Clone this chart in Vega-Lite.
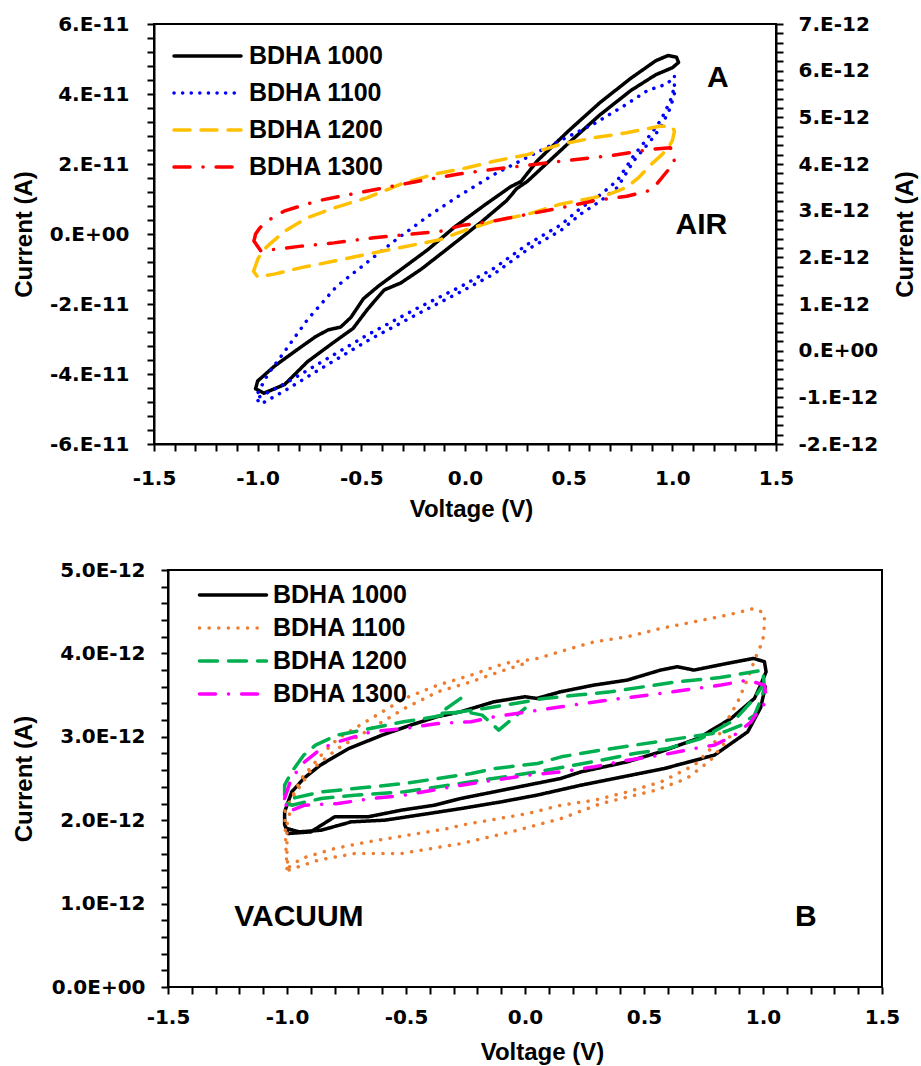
{
"$schema": "https://vega.github.io/schema/vega-lite/v6.json",
"background": "white",
"padding": {"left": 11, "top": 13, "right": 2, "bottom": 2},
"spacing": 38,
"config": {
 "view": {"stroke": "#000", "strokeWidth": 2},
 "axis": {"domainColor": "#000", "domainWidth": 2, "tickColor": "#000", "tickWidth": 2, "tickSize": 7, "grid": false,
  "labelFont": "DejaVu Sans", "labelFontWeight": "bold", "labelFontSize": 20, "labelColor": "#000",
  "titleFont": "Liberation Sans", "titleFontWeight": "bold", "titleFontSize": 24, "titleColor": "#000",
  "labelOverlap": false, "labelFlush": false, "labelBound": false},
 "legend": {"labelFont": "Liberation Sans", "labelFontWeight": "bold", "labelFontSize": 25, "labelColor": "#000"}
},
"datasets": {
"notes": [
 {"p": "A", "label": "A", "v": 1.22, "pA": 44.7},
 {"p": "A", "label": "AIR", "v": 1.14, "pA": 2.7},
 {"p": "B", "label": "VACUUM", "v": -0.95, "pA": 0.84},
 {"p": "B", "label": "B", "v": 1.18, "pA": 0.84}
],
"frame": [{"v0": -1.5, "v1": 1.5, "c0": 0, "c1": 5}],
"curves": [
{"p":"A","s":"BDHA 1000","g":1,"i":1,"v":-1.01,"pA":-44.2},
{"p":"A","s":"BDHA 1000","g":1,"i":2,"v":-0.97,"pA":-45.5},
{"p":"A","s":"BDHA 1000","g":1,"i":3,"v":-0.87,"pA":-43.0},
{"p":"A","s":"BDHA 1000","g":1,"i":4,"v":-0.76,"pA":-36.5},
{"p":"A","s":"BDHA 1000","g":1,"i":5,"v":-0.63,"pA":-30.8},
{"p":"A","s":"BDHA 1000","g":1,"i":6,"v":-0.54,"pA":-27.0},
{"p":"A","s":"BDHA 1000","g":1,"i":7,"v":-0.47,"pA":-21.5},
{"p":"A","s":"BDHA 1000","g":1,"i":8,"v":-0.39,"pA":-16.0},
{"p":"A","s":"BDHA 1000","g":1,"i":9,"v":-0.31,"pA":-14.0},
{"p":"A","s":"BDHA 1000","g":1,"i":10,"v":-0.21,"pA":-10.0},
{"p":"A","s":"BDHA 1000","g":1,"i":11,"v":-0.08,"pA":-4.0},
{"p":"A","s":"BDHA 1000","g":1,"i":12,"v":0.08,"pA":3.5},
{"p":"A","s":"BDHA 1000","g":1,"i":13,"v":0.2,"pA":9.5},
{"p":"A","s":"BDHA 1000","g":1,"i":14,"v":0.25,"pA":13.0},
{"p":"A","s":"BDHA 1000","g":1,"i":15,"v":0.3,"pA":15.0},
{"p":"A","s":"BDHA 1000","g":1,"i":16,"v":0.4,"pA":20.5},
{"p":"A","s":"BDHA 1000","g":1,"i":17,"v":0.5,"pA":26.0},
{"p":"A","s":"BDHA 1000","g":1,"i":18,"v":0.65,"pA":34.0},
{"p":"A","s":"BDHA 1000","g":1,"i":19,"v":0.8,"pA":41.0},
{"p":"A","s":"BDHA 1000","g":1,"i":20,"v":0.92,"pA":45.5},
{"p":"A","s":"BDHA 1000","g":1,"i":21,"v":1.0,"pA":47.5},
{"p":"A","s":"BDHA 1000","g":1,"i":22,"v":1.03,"pA":49.0},
{"p":"A","s":"BDHA 1000","g":1,"i":23,"v":1.02,"pA":50.5},
{"p":"A","s":"BDHA 1000","g":1,"i":24,"v":0.98,"pA":51.0},
{"p":"A","s":"BDHA 1000","g":1,"i":25,"v":0.92,"pA":49.5},
{"p":"A","s":"BDHA 1000","g":1,"i":26,"v":0.8,"pA":44.5},
{"p":"A","s":"BDHA 1000","g":1,"i":27,"v":0.65,"pA":37.5},
{"p":"A","s":"BDHA 1000","g":1,"i":28,"v":0.5,"pA":29.5},
{"p":"A","s":"BDHA 1000","g":1,"i":29,"v":0.35,"pA":21.0},
{"p":"A","s":"BDHA 1000","g":1,"i":30,"v":0.27,"pA":15.0},
{"p":"A","s":"BDHA 1000","g":1,"i":31,"v":0.22,"pA":13.5},
{"p":"A","s":"BDHA 1000","g":1,"i":32,"v":0.1,"pA":8.5},
{"p":"A","s":"BDHA 1000","g":1,"i":33,"v":-0.05,"pA":2.0},
{"p":"A","s":"BDHA 1000","g":1,"i":34,"v":-0.18,"pA":-4.5},
{"p":"A","s":"BDHA 1000","g":1,"i":35,"v":-0.31,"pA":-10.2},
{"p":"A","s":"BDHA 1000","g":1,"i":36,"v":-0.42,"pA":-15.0},
{"p":"A","s":"BDHA 1000","g":1,"i":37,"v":-0.49,"pA":-18.5},
{"p":"A","s":"BDHA 1000","g":1,"i":38,"v":-0.55,"pA":-23.8},
{"p":"A","s":"BDHA 1000","g":1,"i":39,"v":-0.6,"pA":-26.6},
{"p":"A","s":"BDHA 1000","g":1,"i":40,"v":-0.66,"pA":-27.4},
{"p":"A","s":"BDHA 1000","g":1,"i":41,"v":-0.72,"pA":-29.3},
{"p":"A","s":"BDHA 1000","g":1,"i":42,"v":-0.82,"pA":-33.5},
{"p":"A","s":"BDHA 1000","g":1,"i":43,"v":-0.92,"pA":-37.8},
{"p":"A","s":"BDHA 1000","g":1,"i":44,"v":-1.0,"pA":-42.0},
{"p":"A","s":"BDHA 1000","g":1,"i":45,"v":-1.01,"pA":-44.2},
{"p":"A","s":"BDHA 1100","g":1,"i":1,"v":1.01,"pA":45},
{"p":"A","s":"BDHA 1100","g":1,"i":2,"v":1.01,"pA":40},
{"p":"A","s":"BDHA 1100","g":1,"i":3,"v":0.99,"pA":36},
{"p":"A","s":"BDHA 1100","g":1,"i":4,"v":0.944,"pA":30.5},
{"p":"A","s":"BDHA 1100","g":1,"i":5,"v":0.896,"pA":26.7},
{"p":"A","s":"BDHA 1100","g":1,"i":6,"v":0.815,"pA":21},
{"p":"A","s":"BDHA 1100","g":1,"i":7,"v":0.735,"pA":13.3},
{"p":"A","s":"BDHA 1100","g":1,"i":8,"v":0.655,"pA":9.5},
{"p":"A","s":"BDHA 1100","g":1,"i":9,"v":0.558,"pA":5.7},
{"p":"A","s":"BDHA 1100","g":1,"i":10,"v":0.462,"pA":1.0},
{"p":"A","s":"BDHA 1100","g":1,"i":11,"v":0.3,"pA":-4.5},
{"p":"A","s":"BDHA 1100","g":1,"i":12,"v":0.14,"pA":-11.4},
{"p":"A","s":"BDHA 1100","g":1,"i":13,"v":-0.02,"pA":-16.5},
{"p":"A","s":"BDHA 1100","g":1,"i":14,"v":-0.23,"pA":-22.9},
{"p":"A","s":"BDHA 1100","g":1,"i":15,"v":-0.47,"pA":-30.5},
{"p":"A","s":"BDHA 1100","g":1,"i":16,"v":-0.71,"pA":-39.0},
{"p":"A","s":"BDHA 1100","g":1,"i":17,"v":-0.87,"pA":-44.8},
{"p":"A","s":"BDHA 1100","g":1,"i":18,"v":-0.985,"pA":-48.6},
{"p":"A","s":"BDHA 1100","g":1,"i":19,"v":-1.0,"pA":-47.5},
{"p":"A","s":"BDHA 1100","g":1,"i":20,"v":-1.0,"pA":-45.5},
{"p":"A","s":"BDHA 1100","g":1,"i":21,"v":-0.95,"pA":-40},
{"p":"A","s":"BDHA 1100","g":1,"i":22,"v":-0.89,"pA":-35.2},
{"p":"A","s":"BDHA 1100","g":1,"i":23,"v":-0.76,"pA":-24.5},
{"p":"A","s":"BDHA 1100","g":1,"i":24,"v":-0.62,"pA":-15},
{"p":"A","s":"BDHA 1100","g":1,"i":25,"v":-0.47,"pA":-8},
{"p":"A","s":"BDHA 1100","g":1,"i":26,"v":-0.33,"pA":-1.5},
{"p":"A","s":"BDHA 1100","g":1,"i":27,"v":-0.18,"pA":5},
{"p":"A","s":"BDHA 1100","g":1,"i":28,"v":-0.04,"pA":10.5},
{"p":"A","s":"BDHA 1100","g":1,"i":29,"v":0.14,"pA":17},
{"p":"A","s":"BDHA 1100","g":1,"i":30,"v":0.3,"pA":21.9},
{"p":"A","s":"BDHA 1100","g":1,"i":31,"v":0.46,"pA":26.7},
{"p":"A","s":"BDHA 1100","g":1,"i":32,"v":0.62,"pA":31.4},
{"p":"A","s":"BDHA 1100","g":1,"i":33,"v":0.78,"pA":37.1},
{"p":"A","s":"BDHA 1100","g":1,"i":34,"v":0.88,"pA":41},
{"p":"A","s":"BDHA 1100","g":1,"i":35,"v":0.976,"pA":42.9},
{"p":"A","s":"BDHA 1100","g":1,"i":36,"v":1.008,"pA":45},
{"p":"A","s":"BDHA 1100","g":2,"i":1,"v":-0.99,"pA":-46.5},
{"p":"A","s":"BDHA 1100","g":2,"i":2,"v":-0.87,"pA":-42.8},
{"p":"A","s":"BDHA 1100","g":2,"i":3,"v":-0.71,"pA":-37.2},
{"p":"A","s":"BDHA 1100","g":2,"i":4,"v":-0.47,"pA":-28.8},
{"p":"A","s":"BDHA 1100","g":2,"i":5,"v":-0.23,"pA":-21.2},
{"p":"A","s":"BDHA 1100","g":2,"i":6,"v":-0.02,"pA":-15.0},
{"p":"A","s":"BDHA 1100","g":2,"i":7,"v":0.14,"pA":-9.8},
{"p":"A","s":"BDHA 1100","g":2,"i":8,"v":0.3,"pA":-3.0},
{"p":"A","s":"BDHA 1100","g":2,"i":9,"v":0.462,"pA":2.6},
{"p":"A","s":"BDHA 1100","g":2,"i":10,"v":0.558,"pA":7.4},
{"p":"A","s":"BDHA 1100","g":2,"i":11,"v":0.655,"pA":11.3},
{"p":"A","s":"BDHA 1100","g":2,"i":12,"v":0.735,"pA":15.3},
{"p":"A","s":"BDHA 1100","g":2,"i":13,"v":0.815,"pA":22.5},
{"p":"A","s":"BDHA 1100","g":2,"i":14,"v":0.896,"pA":28.5},
{"p":"A","s":"BDHA 1100","g":2,"i":15,"v":0.944,"pA":32.5},
{"p":"A","s":"BDHA 1100","g":2,"i":16,"v":0.99,"pA":38},
{"p":"A","s":"BDHA 1100","g":2,"i":17,"v":1.01,"pA":42},
{"p":"A","s":"BDHA 1200","g":1,"i":1,"v":-1.02,"pA":1.70},
{"p":"A","s":"BDHA 1200","g":1,"i":2,"v":-1.0,"pA":1.95},
{"p":"A","s":"BDHA 1200","g":1,"i":3,"v":-0.98,"pA":2.12},
{"p":"A","s":"BDHA 1200","g":1,"i":4,"v":-0.95,"pA":2.25},
{"p":"A","s":"BDHA 1200","g":1,"i":5,"v":-0.87,"pA":2.56},
{"p":"A","s":"BDHA 1200","g":1,"i":6,"v":-0.76,"pA":2.85},
{"p":"A","s":"BDHA 1200","g":1,"i":7,"v":-0.63,"pA":3.06},
{"p":"A","s":"BDHA 1200","g":1,"i":8,"v":-0.47,"pA":3.28},
{"p":"A","s":"BDHA 1200","g":1,"i":9,"v":-0.31,"pA":3.57},
{"p":"A","s":"BDHA 1200","g":1,"i":10,"v":-0.15,"pA":3.78},
{"p":"A","s":"BDHA 1200","g":1,"i":11,"v":0.01,"pA":3.92},
{"p":"A","s":"BDHA 1200","g":1,"i":12,"v":0.14,"pA":4.06},
{"p":"A","s":"BDHA 1200","g":1,"i":13,"v":0.3,"pA":4.20},
{"p":"A","s":"BDHA 1200","g":1,"i":14,"v":0.46,"pA":4.42},
{"p":"A","s":"BDHA 1200","g":1,"i":15,"v":0.62,"pA":4.56},
{"p":"A","s":"BDHA 1200","g":1,"i":16,"v":0.78,"pA":4.67},
{"p":"A","s":"BDHA 1200","g":1,"i":17,"v":0.94,"pA":4.81},
{"p":"A","s":"BDHA 1200","g":1,"i":18,"v":1.0,"pA":4.80},
{"p":"A","s":"BDHA 1200","g":1,"i":19,"v":1.01,"pA":4.70},
{"p":"A","s":"BDHA 1200","g":1,"i":20,"v":1.0,"pA":4.50},
{"p":"A","s":"BDHA 1200","g":1,"i":21,"v":0.98,"pA":4.35},
{"p":"A","s":"BDHA 1200","g":1,"i":22,"v":0.95,"pA":4.20},
{"p":"A","s":"BDHA 1200","g":1,"i":23,"v":0.9,"pA":4.00},
{"p":"A","s":"BDHA 1200","g":1,"i":24,"v":0.84,"pA":3.72},
{"p":"A","s":"BDHA 1200","g":1,"i":25,"v":0.78,"pA":3.50},
{"p":"A","s":"BDHA 1200","g":1,"i":26,"v":0.7,"pA":3.36},
{"p":"A","s":"BDHA 1200","g":1,"i":27,"v":0.62,"pA":3.28},
{"p":"A","s":"BDHA 1200","g":1,"i":28,"v":0.46,"pA":3.14},
{"p":"A","s":"BDHA 1200","g":1,"i":29,"v":0.3,"pA":2.92},
{"p":"A","s":"BDHA 1200","g":1,"i":30,"v":0.14,"pA":2.78},
{"p":"A","s":"BDHA 1200","g":1,"i":31,"v":0.0,"pA":2.58},
{"p":"A","s":"BDHA 1200","g":1,"i":32,"v":-0.12,"pA":2.38},
{"p":"A","s":"BDHA 1200","g":1,"i":33,"v":-0.31,"pA":2.21},
{"p":"A","s":"BDHA 1200","g":1,"i":34,"v":-0.47,"pA":2.07},
{"p":"A","s":"BDHA 1200","g":1,"i":35,"v":-0.63,"pA":1.92},
{"p":"A","s":"BDHA 1200","g":1,"i":36,"v":-0.79,"pA":1.78},
{"p":"A","s":"BDHA 1200","g":1,"i":37,"v":-0.92,"pA":1.64},
{"p":"A","s":"BDHA 1200","g":1,"i":38,"v":-1.0,"pA":1.58},
{"p":"A","s":"BDHA 1200","g":1,"i":39,"v":-1.02,"pA":1.70},
{"p":"A","s":"BDHA 1300","g":1,"i":1,"v":-1.018,"pA":2.35},
{"p":"A","s":"BDHA 1300","g":1,"i":2,"v":-1.01,"pA":2.50},
{"p":"A","s":"BDHA 1300","g":1,"i":3,"v":-0.99,"pA":2.63},
{"p":"A","s":"BDHA 1300","g":1,"i":4,"v":-0.953,"pA":2.78},
{"p":"A","s":"BDHA 1300","g":1,"i":5,"v":-0.873,"pA":2.99},
{"p":"A","s":"BDHA 1300","g":1,"i":6,"v":-0.712,"pA":3.21},
{"p":"A","s":"BDHA 1300","g":1,"i":7,"v":-0.551,"pA":3.35},
{"p":"A","s":"BDHA 1300","g":1,"i":8,"v":-0.39,"pA":3.49},
{"p":"A","s":"BDHA 1300","g":1,"i":9,"v":-0.214,"pA":3.64},
{"p":"A","s":"BDHA 1300","g":1,"i":10,"v":-0.037,"pA":3.78},
{"p":"A","s":"BDHA 1300","g":1,"i":11,"v":0.14,"pA":3.89},
{"p":"A","s":"BDHA 1300","g":1,"i":12,"v":0.3,"pA":3.97},
{"p":"A","s":"BDHA 1300","g":1,"i":13,"v":0.46,"pA":4.06},
{"p":"A","s":"BDHA 1300","g":1,"i":14,"v":0.687,"pA":4.17},
{"p":"A","s":"BDHA 1300","g":1,"i":15,"v":0.91,"pA":4.32},
{"p":"A","s":"BDHA 1300","g":1,"i":16,"v":0.99,"pA":4.35},
{"p":"A","s":"BDHA 1300","g":1,"i":17,"v":1.01,"pA":4.2},
{"p":"A","s":"BDHA 1300","g":1,"i":18,"v":1.008,"pA":3.99},
{"p":"A","s":"BDHA 1300","g":1,"i":19,"v":0.976,"pA":3.85},
{"p":"A","s":"BDHA 1300","g":1,"i":20,"v":0.91,"pA":3.49},
{"p":"A","s":"BDHA 1300","g":1,"i":21,"v":0.88,"pA":3.42},
{"p":"A","s":"BDHA 1300","g":1,"i":22,"v":0.78,"pA":3.31},
{"p":"A","s":"BDHA 1300","g":1,"i":23,"v":0.62,"pA":3.21},
{"p":"A","s":"BDHA 1300","g":1,"i":24,"v":0.46,"pA":3.06},
{"p":"A","s":"BDHA 1300","g":1,"i":25,"v":0.3,"pA":2.92},
{"p":"A","s":"BDHA 1300","g":1,"i":26,"v":0.14,"pA":2.78},
{"p":"A","s":"BDHA 1300","g":1,"i":27,"v":-0.02,"pA":2.68},
{"p":"A","s":"BDHA 1300","g":1,"i":28,"v":-0.117,"pA":2.56},
{"p":"A","s":"BDHA 1300","g":1,"i":29,"v":-0.28,"pA":2.49},
{"p":"A","s":"BDHA 1300","g":1,"i":30,"v":-0.44,"pA":2.42},
{"p":"A","s":"BDHA 1300","g":1,"i":31,"v":-0.632,"pA":2.31},
{"p":"A","s":"BDHA 1300","g":1,"i":32,"v":-0.79,"pA":2.24},
{"p":"A","s":"BDHA 1300","g":1,"i":33,"v":-0.92,"pA":2.17},
{"p":"A","s":"BDHA 1300","g":1,"i":34,"v":-0.985,"pA":2.14},
{"p":"A","s":"BDHA 1300","g":1,"i":35,"v":-1.018,"pA":2.35},
{"p":"B","s":"BDHA 1000","g":1,"i":1,"v":-1.01,"pA":2.1},
{"p":"B","s":"BDHA 1000","g":1,"i":2,"v":-0.98,"pA":2.34},
{"p":"B","s":"BDHA 1000","g":1,"i":3,"v":-0.93,"pA":2.5},
{"p":"B","s":"BDHA 1000","g":1,"i":4,"v":-0.86,"pA":2.66},
{"p":"B","s":"BDHA 1000","g":1,"i":5,"v":-0.74,"pA":2.86},
{"p":"B","s":"BDHA 1000","g":1,"i":6,"v":-0.6,"pA":3.02},
{"p":"B","s":"BDHA 1000","g":1,"i":7,"v":-0.48,"pA":3.14},
{"p":"B","s":"BDHA 1000","g":1,"i":8,"v":-0.37,"pA":3.24},
{"p":"B","s":"BDHA 1000","g":1,"i":9,"v":-0.27,"pA":3.3},
{"p":"B","s":"BDHA 1000","g":1,"i":10,"v":-0.13,"pA":3.42},
{"p":"B","s":"BDHA 1000","g":1,"i":11,"v":0.0,"pA":3.48},
{"p":"B","s":"BDHA 1000","g":1,"i":12,"v":0.05,"pA":3.46},
{"p":"B","s":"BDHA 1000","g":1,"i":13,"v":0.15,"pA":3.54},
{"p":"B","s":"BDHA 1000","g":1,"i":14,"v":0.29,"pA":3.62},
{"p":"B","s":"BDHA 1000","g":1,"i":15,"v":0.43,"pA":3.68},
{"p":"B","s":"BDHA 1000","g":1,"i":16,"v":0.57,"pA":3.8},
{"p":"B","s":"BDHA 1000","g":1,"i":17,"v":0.64,"pA":3.84},
{"p":"B","s":"BDHA 1000","g":1,"i":18,"v":0.71,"pA":3.8},
{"p":"B","s":"BDHA 1000","g":1,"i":19,"v":0.85,"pA":3.88},
{"p":"B","s":"BDHA 1000","g":1,"i":20,"v":0.96,"pA":3.94},
{"p":"B","s":"BDHA 1000","g":1,"i":21,"v":1.006,"pA":3.9},
{"p":"B","s":"BDHA 1000","g":1,"i":22,"v":1.013,"pA":3.78},
{"p":"B","s":"BDHA 1000","g":1,"i":23,"v":0.99,"pA":3.62},
{"p":"B","s":"BDHA 1000","g":1,"i":24,"v":0.964,"pA":3.46},
{"p":"B","s":"BDHA 1000","g":1,"i":25,"v":0.866,"pA":3.22},
{"p":"B","s":"BDHA 1000","g":1,"i":26,"v":0.726,"pA":2.98},
{"p":"B","s":"BDHA 1000","g":1,"i":27,"v":0.57,"pA":2.82},
{"p":"B","s":"BDHA 1000","g":1,"i":28,"v":0.43,"pA":2.7},
{"p":"B","s":"BDHA 1000","g":1,"i":29,"v":0.236,"pA":2.58},
{"p":"B","s":"BDHA 1000","g":1,"i":30,"v":0.15,"pA":2.5},
{"p":"B","s":"BDHA 1000","g":1,"i":31,"v":0.01,"pA":2.42},
{"p":"B","s":"BDHA 1000","g":1,"i":32,"v":-0.13,"pA":2.34},
{"p":"B","s":"BDHA 1000","g":1,"i":33,"v":-0.27,"pA":2.26},
{"p":"B","s":"BDHA 1000","g":1,"i":34,"v":-0.38,"pA":2.18},
{"p":"B","s":"BDHA 1000","g":1,"i":35,"v":-0.52,"pA":2.12},
{"p":"B","s":"BDHA 1000","g":1,"i":36,"v":-0.66,"pA":2.04},
{"p":"B","s":"BDHA 1000","g":1,"i":37,"v":-0.8,"pA":2.04},
{"p":"B","s":"BDHA 1000","g":1,"i":38,"v":-0.9,"pA":1.86},
{"p":"B","s":"BDHA 1000","g":1,"i":39,"v":-0.996,"pA":1.84},
{"p":"B","s":"BDHA 1000","g":1,"i":40,"v":-1.01,"pA":1.95},
{"p":"B","s":"BDHA 1000","g":1,"i":41,"v":-1.01,"pA":2.1},
{"p":"B","s":"BDHA 1000","g":2,"i":1,"v":-1.0,"pA":1.9},
{"p":"B","s":"BDHA 1000","g":2,"i":2,"v":-0.95,"pA":1.86},
{"p":"B","s":"BDHA 1000","g":2,"i":3,"v":-0.856,"pA":1.88},
{"p":"B","s":"BDHA 1000","g":2,"i":4,"v":-0.73,"pA":1.98},
{"p":"B","s":"BDHA 1000","g":2,"i":5,"v":-0.59,"pA":2.0},
{"p":"B","s":"BDHA 1000","g":2,"i":6,"v":-0.45,"pA":2.06},
{"p":"B","s":"BDHA 1000","g":2,"i":7,"v":-0.268,"pA":2.14},
{"p":"B","s":"BDHA 1000","g":2,"i":8,"v":-0.1,"pA":2.22},
{"p":"B","s":"BDHA 1000","g":2,"i":9,"v":0.05,"pA":2.3},
{"p":"B","s":"BDHA 1000","g":2,"i":10,"v":0.236,"pA":2.42},
{"p":"B","s":"BDHA 1000","g":2,"i":11,"v":0.376,"pA":2.5},
{"p":"B","s":"BDHA 1000","g":2,"i":12,"v":0.586,"pA":2.62},
{"p":"B","s":"BDHA 1000","g":2,"i":13,"v":0.796,"pA":2.78},
{"p":"B","s":"BDHA 1000","g":2,"i":14,"v":0.936,"pA":3.06},
{"p":"B","s":"BDHA 1000","g":2,"i":15,"v":0.99,"pA":3.35},
{"p":"B","s":"BDHA 1000","g":2,"i":16,"v":1.01,"pA":3.6},
{"p":"B","s":"BDHA 1100","g":1,"i":1,"v":-1.0,"pA":1.42},
{"p":"B","s":"BDHA 1100","g":1,"i":2,"v":-1.005,"pA":1.7},
{"p":"B","s":"BDHA 1100","g":1,"i":3,"v":-1.01,"pA":2.1},
{"p":"B","s":"BDHA 1100","g":1,"i":4,"v":-0.94,"pA":2.5},
{"p":"B","s":"BDHA 1100","g":1,"i":5,"v":-0.856,"pA":2.78},
{"p":"B","s":"BDHA 1100","g":1,"i":6,"v":-0.786,"pA":2.98},
{"p":"B","s":"BDHA 1100","g":1,"i":7,"v":-0.646,"pA":3.22},
{"p":"B","s":"BDHA 1100","g":1,"i":8,"v":-0.506,"pA":3.46},
{"p":"B","s":"BDHA 1100","g":1,"i":9,"v":-0.366,"pA":3.62},
{"p":"B","s":"BDHA 1100","g":1,"i":10,"v":-0.226,"pA":3.74},
{"p":"B","s":"BDHA 1100","g":1,"i":11,"v":-0.086,"pA":3.88},
{"p":"B","s":"BDHA 1100","g":1,"i":12,"v":0.053,"pA":3.94},
{"p":"B","s":"BDHA 1100","g":1,"i":13,"v":0.194,"pA":4.06},
{"p":"B","s":"BDHA 1100","g":1,"i":14,"v":0.292,"pA":4.14},
{"p":"B","s":"BDHA 1100","g":1,"i":15,"v":0.432,"pA":4.2},
{"p":"B","s":"BDHA 1100","g":1,"i":16,"v":0.572,"pA":4.3},
{"p":"B","s":"BDHA 1100","g":1,"i":17,"v":0.712,"pA":4.38},
{"p":"B","s":"BDHA 1100","g":1,"i":18,"v":0.852,"pA":4.46},
{"p":"B","s":"BDHA 1100","g":1,"i":19,"v":0.964,"pA":4.54},
{"p":"B","s":"BDHA 1100","g":1,"i":20,"v":1.006,"pA":4.48},
{"p":"B","s":"BDHA 1100","g":1,"i":21,"v":1.006,"pA":4.34},
{"p":"B","s":"BDHA 1100","g":1,"i":22,"v":0.999,"pA":4.14},
{"p":"B","s":"BDHA 1100","g":1,"i":23,"v":0.978,"pA":4.02},
{"p":"B","s":"BDHA 1100","g":1,"i":24,"v":0.936,"pA":3.7},
{"p":"B","s":"BDHA 1100","g":1,"i":25,"v":0.894,"pA":3.42},
{"p":"B","s":"BDHA 1100","g":1,"i":26,"v":0.838,"pA":3.14},
{"p":"B","s":"BDHA 1100","g":1,"i":27,"v":0.782,"pA":2.86},
{"p":"B","s":"BDHA 1100","g":1,"i":28,"v":0.712,"pA":2.66},
{"p":"B","s":"BDHA 1100","g":1,"i":29,"v":0.572,"pA":2.46},
{"p":"B","s":"BDHA 1100","g":1,"i":30,"v":0.432,"pA":2.34},
{"p":"B","s":"BDHA 1100","g":1,"i":31,"v":0.292,"pA":2.24},
{"p":"B","s":"BDHA 1100","g":1,"i":32,"v":0.152,"pA":2.18},
{"p":"B","s":"BDHA 1100","g":1,"i":33,"v":0.012,"pA":2.08},
{"p":"B","s":"BDHA 1100","g":1,"i":34,"v":-0.268,"pA":1.94},
{"p":"B","s":"BDHA 1100","g":1,"i":35,"v":-0.324,"pA":1.9},
{"p":"B","s":"BDHA 1100","g":1,"i":36,"v":-0.66,"pA":1.74},
{"p":"B","s":"BDHA 1100","g":1,"i":37,"v":-0.8,"pA":1.66},
{"p":"B","s":"BDHA 1100","g":1,"i":38,"v":-0.94,"pA":1.54},
{"p":"B","s":"BDHA 1100","g":1,"i":39,"v":-1.0,"pA":1.42},
{"p":"B","s":"BDHA 1100","g":2,"i":1,"v":0.86,"pA":3.0},
{"p":"B","s":"BDHA 1100","g":2,"i":2,"v":0.78,"pA":2.72},
{"p":"B","s":"BDHA 1100","g":2,"i":3,"v":0.68,"pA":2.5},
{"p":"B","s":"BDHA 1100","g":2,"i":4,"v":0.55,"pA":2.36},
{"p":"B","s":"BDHA 1100","g":2,"i":5,"v":0.32,"pA":2.2},
{"p":"B","s":"BDHA 1100","g":2,"i":6,"v":0.152,"pA":2.02},
{"p":"B","s":"BDHA 1100","g":2,"i":7,"v":-0.058,"pA":1.86},
{"p":"B","s":"BDHA 1100","g":2,"i":8,"v":-0.268,"pA":1.72},
{"p":"B","s":"BDHA 1100","g":2,"i":9,"v":-0.52,"pA":1.6},
{"p":"B","s":"BDHA 1100","g":2,"i":10,"v":-0.716,"pA":1.6},
{"p":"B","s":"BDHA 1100","g":2,"i":11,"v":-0.87,"pA":1.52},
{"p":"B","s":"BDHA 1100","g":2,"i":12,"v":-0.996,"pA":1.4},
{"p":"B","s":"BDHA 1100","g":2,"i":13,"v":-1.0,"pA":1.6},
{"p":"B","s":"BDHA 1100","g":2,"i":14,"v":-1.0,"pA":1.95},
{"p":"B","s":"BDHA 1100","g":2,"i":15,"v":-0.97,"pA":2.3},
{"p":"B","s":"BDHA 1100","g":2,"i":16,"v":-0.9,"pA":2.6},
{"p":"B","s":"BDHA 1100","g":2,"i":17,"v":-0.786,"pA":2.86},
{"p":"B","s":"BDHA 1100","g":2,"i":18,"v":-0.646,"pA":3.1},
{"p":"B","s":"BDHA 1100","g":2,"i":19,"v":-0.506,"pA":3.34},
{"p":"B","s":"BDHA 1100","g":2,"i":20,"v":-0.366,"pA":3.54},
{"p":"B","s":"BDHA 1100","g":2,"i":21,"v":-0.226,"pA":3.66},
{"p":"B","s":"BDHA 1100","g":2,"i":22,"v":-0.086,"pA":3.8},
{"p":"B","s":"BDHA 1100","g":2,"i":23,"v":0.0,"pA":3.88},
{"p":"B","s":"BDHA 1200","g":1,"i":1,"v":-1.01,"pA":2.3},
{"p":"B","s":"BDHA 1200","g":1,"i":2,"v":-1.01,"pA":2.42},
{"p":"B","s":"BDHA 1200","g":1,"i":3,"v":-0.98,"pA":2.58},
{"p":"B","s":"BDHA 1200","g":1,"i":4,"v":-0.93,"pA":2.78},
{"p":"B","s":"BDHA 1200","g":1,"i":5,"v":-0.88,"pA":2.9},
{"p":"B","s":"BDHA 1200","g":1,"i":6,"v":-0.79,"pA":3.02},
{"p":"B","s":"BDHA 1200","g":1,"i":7,"v":-0.65,"pA":3.1},
{"p":"B","s":"BDHA 1200","g":1,"i":8,"v":-0.51,"pA":3.18},
{"p":"B","s":"BDHA 1200","g":1,"i":9,"v":-0.38,"pA":3.24},
{"p":"B","s":"BDHA 1200","g":1,"i":10,"v":-0.27,"pA":3.3},
{"p":"B","s":"BDHA 1200","g":1,"i":11,"v":-0.17,"pA":3.34},
{"p":"B","s":"BDHA 1200","g":1,"i":12,"v":-0.086,"pA":3.38},
{"p":"B","s":"BDHA 1200","g":1,"i":13,"v":0.0,"pA":3.42},
{"p":"B","s":"BDHA 1200","g":1,"i":14,"v":0.08,"pA":3.46},
{"p":"B","s":"BDHA 1200","g":1,"i":15,"v":0.22,"pA":3.5},
{"p":"B","s":"BDHA 1200","g":1,"i":16,"v":0.36,"pA":3.54},
{"p":"B","s":"BDHA 1200","g":1,"i":17,"v":0.5,"pA":3.6},
{"p":"B","s":"BDHA 1200","g":1,"i":18,"v":0.64,"pA":3.66},
{"p":"B","s":"BDHA 1200","g":1,"i":19,"v":0.82,"pA":3.71},
{"p":"B","s":"BDHA 1200","g":1,"i":20,"v":0.96,"pA":3.78},
{"p":"B","s":"BDHA 1200","g":1,"i":21,"v":1.0,"pA":3.8},
{"p":"B","s":"BDHA 1200","g":1,"i":22,"v":1.006,"pA":3.58},
{"p":"B","s":"BDHA 1200","g":1,"i":23,"v":0.993,"pA":3.46},
{"p":"B","s":"BDHA 1200","g":1,"i":24,"v":0.964,"pA":3.26},
{"p":"B","s":"BDHA 1200","g":1,"i":25,"v":0.908,"pA":3.14},
{"p":"B","s":"BDHA 1200","g":1,"i":26,"v":0.838,"pA":3.06},
{"p":"B","s":"BDHA 1200","g":1,"i":27,"v":0.74,"pA":3.02},
{"p":"B","s":"BDHA 1200","g":1,"i":28,"v":0.6,"pA":2.96},
{"p":"B","s":"BDHA 1200","g":1,"i":29,"v":0.46,"pA":2.9},
{"p":"B","s":"BDHA 1200","g":1,"i":30,"v":0.32,"pA":2.84},
{"p":"B","s":"BDHA 1200","g":1,"i":31,"v":0.152,"pA":2.76},
{"p":"B","s":"BDHA 1200","g":1,"i":32,"v":0.053,"pA":2.68},
{"p":"B","s":"BDHA 1200","g":1,"i":33,"v":-0.128,"pA":2.62},
{"p":"B","s":"BDHA 1200","g":1,"i":34,"v":-0.226,"pA":2.56},
{"p":"B","s":"BDHA 1200","g":1,"i":35,"v":-0.506,"pA":2.44},
{"p":"B","s":"BDHA 1200","g":1,"i":36,"v":-0.716,"pA":2.38},
{"p":"B","s":"BDHA 1200","g":1,"i":37,"v":-0.856,"pA":2.34},
{"p":"B","s":"BDHA 1200","g":1,"i":38,"v":-0.98,"pA":2.26},
{"p":"B","s":"BDHA 1200","g":1,"i":39,"v":-1.01,"pA":2.3},
{"p":"B","s":"BDHA 1200","g":2,"i":1,"v":-1.0,"pA":2.2},
{"p":"B","s":"BDHA 1200","g":2,"i":2,"v":-0.98,"pA":2.18},
{"p":"B","s":"BDHA 1200","g":2,"i":3,"v":-0.856,"pA":2.26},
{"p":"B","s":"BDHA 1200","g":2,"i":4,"v":-0.716,"pA":2.3},
{"p":"B","s":"BDHA 1200","g":2,"i":5,"v":-0.506,"pA":2.34},
{"p":"B","s":"BDHA 1200","g":2,"i":6,"v":-0.226,"pA":2.46},
{"p":"B","s":"BDHA 1200","g":2,"i":7,"v":0.053,"pA":2.58},
{"p":"B","s":"BDHA 1200","g":2,"i":8,"v":0.32,"pA":2.72},
{"p":"B","s":"BDHA 1200","g":2,"i":9,"v":0.46,"pA":2.8},
{"p":"B","s":"BDHA 1200","g":2,"i":10,"v":0.6,"pA":2.86},
{"p":"B","s":"BDHA 1200","g":2,"i":11,"v":0.74,"pA":2.98},
{"p":"B","s":"BDHA 1200","g":2,"i":12,"v":0.88,"pA":3.2},
{"p":"B","s":"BDHA 1200","g":2,"i":13,"v":0.96,"pA":3.45},
{"p":"B","s":"BDHA 1200","g":2,"i":14,"v":1.0,"pA":3.62},
{"p":"B","s":"BDHA 1200","g":3,"i":1,"v":-0.27,"pA":3.46},
{"p":"B","s":"BDHA 1200","g":3,"i":2,"v":-0.36,"pA":3.28},
{"p":"B","s":"BDHA 1200","g":3,"i":3,"v":-0.25,"pA":3.3},
{"p":"B","s":"BDHA 1200","g":3,"i":4,"v":-0.18,"pA":3.26},
{"p":"B","s":"BDHA 1200","g":3,"i":5,"v":-0.11,"pA":3.08},
{"p":"B","s":"BDHA 1200","g":3,"i":6,"v":-0.06,"pA":3.2},
{"p":"B","s":"BDHA 1200","g":3,"i":7,"v":0.0,"pA":3.34},
{"p":"B","s":"BDHA 1300","g":1,"i":1,"v":-1.01,"pA":2.26},
{"p":"B","s":"BDHA 1300","g":1,"i":2,"v":-0.982,"pA":2.5},
{"p":"B","s":"BDHA 1300","g":1,"i":3,"v":-0.926,"pA":2.7},
{"p":"B","s":"BDHA 1300","g":1,"i":4,"v":-0.856,"pA":2.86},
{"p":"B","s":"BDHA 1300","g":1,"i":5,"v":-0.786,"pA":2.94},
{"p":"B","s":"BDHA 1300","g":1,"i":6,"v":-0.646,"pA":3.06},
{"p":"B","s":"BDHA 1300","g":1,"i":7,"v":-0.506,"pA":3.1},
{"p":"B","s":"BDHA 1300","g":1,"i":8,"v":-0.366,"pA":3.16},
{"p":"B","s":"BDHA 1300","g":1,"i":9,"v":-0.226,"pA":3.18},
{"p":"B","s":"BDHA 1300","g":1,"i":10,"v":-0.128,"pA":3.24},
{"p":"B","s":"BDHA 1300","g":1,"i":11,"v":0.012,"pA":3.3},
{"p":"B","s":"BDHA 1300","g":1,"i":12,"v":0.152,"pA":3.36},
{"p":"B","s":"BDHA 1300","g":1,"i":13,"v":0.348,"pA":3.44},
{"p":"B","s":"BDHA 1300","g":1,"i":14,"v":0.572,"pA":3.52},
{"p":"B","s":"BDHA 1300","g":1,"i":15,"v":0.824,"pA":3.62},
{"p":"B","s":"BDHA 1300","g":1,"i":16,"v":0.936,"pA":3.68},
{"p":"B","s":"BDHA 1300","g":1,"i":17,"v":1.006,"pA":3.62},
{"p":"B","s":"BDHA 1300","g":1,"i":18,"v":1.013,"pA":3.5},
{"p":"B","s":"BDHA 1300","g":1,"i":19,"v":0.999,"pA":3.34},
{"p":"B","s":"BDHA 1300","g":1,"i":20,"v":0.978,"pA":3.3},
{"p":"B","s":"BDHA 1300","g":1,"i":21,"v":0.95,"pA":3.18},
{"p":"B","s":"BDHA 1300","g":1,"i":22,"v":0.88,"pA":3.02},
{"p":"B","s":"BDHA 1300","g":1,"i":23,"v":0.796,"pA":2.9},
{"p":"B","s":"BDHA 1300","g":1,"i":24,"v":0.712,"pA":2.86},
{"p":"B","s":"BDHA 1300","g":1,"i":25,"v":0.572,"pA":2.78},
{"p":"B","s":"BDHA 1300","g":1,"i":26,"v":0.432,"pA":2.72},
{"p":"B","s":"BDHA 1300","g":1,"i":27,"v":0.292,"pA":2.64},
{"p":"B","s":"BDHA 1300","g":1,"i":28,"v":0.152,"pA":2.58},
{"p":"B","s":"BDHA 1300","g":1,"i":29,"v":0.012,"pA":2.54},
{"p":"B","s":"BDHA 1300","g":1,"i":30,"v":-0.128,"pA":2.48},
{"p":"B","s":"BDHA 1300","g":1,"i":31,"v":-0.268,"pA":2.42},
{"p":"B","s":"BDHA 1300","g":1,"i":32,"v":-0.506,"pA":2.3},
{"p":"B","s":"BDHA 1300","g":1,"i":33,"v":-0.646,"pA":2.26},
{"p":"B","s":"BDHA 1300","g":1,"i":34,"v":-0.786,"pA":2.2},
{"p":"B","s":"BDHA 1300","g":1,"i":35,"v":-0.926,"pA":2.18},
{"p":"B","s":"BDHA 1300","g":1,"i":36,"v":-0.996,"pA":2.1},
{"p":"B","s":"BDHA 1300","g":1,"i":37,"v":-1.01,"pA":2.26}
]
},
"resolve": {"scale": {"color": "independent", "strokeDash": "independent"}},
"vconcat": [
{
 "width": 622, "height": 420,
 "encoding": {
  "x": {"field": "v", "type": "quantitative", "scale": {"domain": [-1.5, 1.5], "nice": false, "zero": false},
   "axis": {"title": "Voltage (V)", "titleX": 317, "values": [-1.5,-1.4,-1.3,-1.2,-1.1,-1,-0.9,-0.8,-0.7,-0.6,-0.5,-0.4,-0.3,-0.2,-0.1,0,0.1,0.2,0.3,0.4,0.5,0.6,0.7,0.8,0.9,1,1.1,1.2,1.3,1.4,1.5],
    "labelExpr": "abs(datum.value*2 - round(datum.value*2)) < 0.01 ? (datum.value < -0.01 ? '-' : '') + format(abs(datum.value), '.1f') : ''",
    "labelPadding": 17, "titlePadding": 9}}
 },
 "resolve": {"scale": {"y": "independent"}},
 "layer": [
  {"encoding": {
    "y": {"field": "pA", "type": "quantitative", "scale": {"domain": [-60, 60], "nice": false, "zero": false},
     "axis": {"title": "Current (A)", "values": [-60,-56,-52,-48,-44,-40,-36,-32,-28,-24,-20,-16,-12,-8,-4,0,4,8,12,16,20,24,28,32,36,40,44,48,52,56,60],
      "labelExpr": "abs(datum.value/20 - round(datum.value/20)) < 0.01 ? (round(datum.value/10) == 0 ? '0.E+00' : round(datum.value/10) + '.E-11') : ''",
      "labelPadding": 18, "titlePadding": 13}}
   },
   "layer": [
   {"data": {"name": "curves"},
    "transform": [{"filter": "datum.p === 'A' && (datum.s === 'BDHA 1000' || datum.s === 'BDHA 1100')"}],
    "mark": {"type": "line", "strokeWidth": 3.5, "strokeCap": "round", "strokeJoin": "round"},
    "encoding": {
     "color": {"field": "s", "type": "nominal",
      "scale": {"domain": ["BDHA 1000", "BDHA 1100", "BDHA 1200", "BDHA 1300"], "range": ["#000000", "#0000FF", "#FFC000", "#FF0000"]},
      "legend": {"title": null, "orient": "none", "legendX": 40.5, "legendY": 19, "padding": 0, "symbolType": "M-3,0H3", "symbolSize": 499, "symbolStrokeWidth": 3.5, "symbolOffset": 0, "labelOffset": 28.5, "rowPadding": 11,
       "encode": {"symbols": {"update": {"strokeCap": {"value": "round"}}}}}},
     "strokeDash": {"field": "s", "type": "nominal",
      "scale": {"domain": ["BDHA 1000", "BDHA 1100", "BDHA 1200", "BDHA 1300"], "range": [[1, 0], [0.1, 8.5], [16, 11], [16, 13, 0.1, 13]]},
      "legend": {"title": null, "orient": "none", "legendX": 40.5, "legendY": 19, "padding": 0, "symbolType": "M-3,0H3", "symbolSize": 499, "symbolStrokeWidth": 3.5, "symbolOffset": 0, "labelOffset": 28.5, "rowPadding": 11}},
     "detail": {"field": "g", "type": "nominal"},
     "order": {"field": "i", "type": "quantitative"}
    }},
   {"data": {"name": "notes"},
    "transform": [{"filter": "datum.p === 'A'"}],
    "mark": {"type": "text", "font": "Liberation Sans", "fontWeight": "bold", "fontSize": 30, "color": "#000", "align": "center", "baseline": "middle"},
    "encoding": {
     "text": {"field": "label", "type": "nominal"}
    }}
  ]},
  {"data": {"name": "curves"},
   "transform": [{"filter": "datum.p === 'A' && (datum.s === 'BDHA 1200' || datum.s === 'BDHA 1300')"}],
   "mark": {"type": "line", "strokeWidth": 3.5, "strokeCap": "round", "strokeJoin": "round"},
   "encoding": {
    "y": {"field": "pA", "type": "quantitative", "scale": {"domain": [-2, 7], "nice": false, "zero": false},
     "axis": {"orient": "right", "title": "Current (A)", "titleAngle": 270, "titleBaseline": "top",
      "values": [-2,-1.8,-1.6,-1.4,-1.2,-1,-0.8,-0.6,-0.4,-0.2,0,0.2,0.4,0.6,0.8,1,1.2,1.4,1.6,1.8,2,2.2,2.4,2.6,2.8,3,3.2,3.4,3.6,3.8,4,4.2,4.4,4.6,4.8,5,5.2,5.4,5.6,5.8,6,6.2,6.4,6.6,6.8,7],
      "labelExpr": "abs(datum.value - round(datum.value)) < 0.01 ? (round(datum.value) == 0 ? '0.E+00' : round(datum.value) + '.E-12') : ''",
      "labelPadding": 15, "titlePadding": 16}},
    "color": {"field": "s", "type": "nominal",
     "scale": {"domain": ["BDHA 1000", "BDHA 1100", "BDHA 1200", "BDHA 1300"], "range": ["#000000", "#0000FF", "#FFC000", "#FF0000"]},
     "legend": {"title": null, "orient": "none", "legendX": 40.5, "legendY": 19, "padding": 0, "symbolType": "M-3,0H3", "symbolSize": 499, "symbolStrokeWidth": 3.5, "symbolOffset": 0, "labelOffset": 28.5, "rowPadding": 11,
      "encode": {"symbols": {"update": {"strokeCap": {"value": "round"}}}}}},
    "strokeDash": {"field": "s", "type": "nominal",
     "scale": {"domain": ["BDHA 1000", "BDHA 1100", "BDHA 1200", "BDHA 1300"], "range": [[1, 0], [0.1, 8.5], [16, 11], [16, 13, 0.1, 13]]},
     "legend": {"title": null, "orient": "none", "legendX": 40.5, "legendY": 19, "padding": 0, "symbolType": "M-3,0H3", "symbolSize": 499, "symbolStrokeWidth": 3.5, "symbolOffset": 0, "labelOffset": 28.5, "rowPadding": 11}},
    "detail": {"field": "g", "type": "nominal"},
    "order": {"field": "i", "type": "quantitative"}
   }}
 ]
},
{
 "width": 728, "height": 417,
 "view": {"stroke": null},
 "layer": [
  {"data": {"name": "frame"},
   "mark": {"type": "rect", "fill": "transparent", "stroke": "#000", "strokeWidth": 2},
   "encoding": {
    "x": {"field": "v0", "type": "quantitative", "scale": {"domain": [-1.5588, 1.5], "nice": false, "zero": false},
     "axis": {"title": "Voltage (V)", "titleX": 388, "domain": false, "values": [-1.5,-1.4,-1.3,-1.2,-1.1,-1,-0.9,-0.8,-0.7,-0.6,-0.5,-0.4,-0.3,-0.2,-0.1,0,0.1,0.2,0.3,0.4,0.5,0.6,0.7,0.8,0.9,1,1.1,1.2,1.3,1.4,1.5],
      "labelExpr": "abs(datum.value*2 - round(datum.value*2)) < 0.01 ? (datum.value < -0.01 ? '-' : '') + format(abs(datum.value), '.1f') : ''",
      "labelPadding": 13, "titlePadding": 13}},
    "x2": {"field": "v1"},
    "y": {"field": "c0", "type": "quantitative", "scale": {"domain": [0, 5], "nice": false, "zero": false},
     "axis": {"title": "Current (A)", "offset": -14, "values": [0,0.2,0.4,0.6,0.8,1,1.2,1.4,1.6,1.8,2,2.2,2.4,2.6,2.8,3,3.2,3.4,3.6,3.8,4,4.2,4.4,4.6,4.8,5],
      "labelExpr": "abs(datum.value - round(datum.value)) < 0.01 ? (round(datum.value) == 0 ? '0.0E+00' : round(datum.value) + '.0E-12') : ''",
      "labelPadding": 16, "titlePadding": 15}},
    "y2": {"field": "c1"}
   }},
  {"data": {"name": "curves"},
   "transform": [{"filter": "datum.p === 'B'"}],
   "mark": {"type": "line", "strokeWidth": 3.5, "strokeCap": "round", "strokeJoin": "round"},
   "encoding": {
    "x": {"field": "v", "type": "quantitative", "scale": {"domain": [-1.5588, 1.5], "nice": false, "zero": false},
     "axis": {"title": "Voltage (V)", "titleX": 388, "domain": false, "values": [-1.5,-1.4,-1.3,-1.2,-1.1,-1,-0.9,-0.8,-0.7,-0.6,-0.5,-0.4,-0.3,-0.2,-0.1,0,0.1,0.2,0.3,0.4,0.5,0.6,0.7,0.8,0.9,1,1.1,1.2,1.3,1.4,1.5],
      "labelExpr": "abs(datum.value*2 - round(datum.value*2)) < 0.01 ? (datum.value < -0.01 ? '-' : '') + format(abs(datum.value), '.1f') : ''",
      "labelPadding": 13, "titlePadding": 13}},
    "y": {"field": "pA", "type": "quantitative", "scale": {"domain": [0, 5], "nice": false, "zero": false},
     "axis": {"title": "Current (A)", "offset": -14, "values": [0,0.2,0.4,0.6,0.8,1,1.2,1.4,1.6,1.8,2,2.2,2.4,2.6,2.8,3,3.2,3.4,3.6,3.8,4,4.2,4.4,4.6,4.8,5],
      "labelExpr": "abs(datum.value - round(datum.value)) < 0.01 ? (round(datum.value) == 0 ? '0.0E+00' : round(datum.value) + '.0E-12') : ''",
      "labelPadding": 16, "titlePadding": 15}},
    "color": {"field": "s", "type": "nominal",
     "scale": {"domain": ["BDHA 1000", "BDHA 1100", "BDHA 1200", "BDHA 1300"], "range": ["#000000", "#ED7D31", "#00B050", "#FF00FF"]},
     "legend": {"title": null, "orient": "none", "legendX": 66, "legendY": 12, "padding": 0, "symbolType": "M-3,0H3", "symbolSize": 499, "symbolStrokeWidth": 3.5, "symbolOffset": 0, "labelOffset": 27, "rowPadding": 7,
      "encode": {"symbols": {"update": {"strokeCap": {"value": "round"}}}}}},
    "strokeDash": {"field": "s", "type": "nominal",
     "scale": {"domain": ["BDHA 1000", "BDHA 1100", "BDHA 1200", "BDHA 1300"], "range": [[1, 0], [0.1, 9.5], [18, 11], [16, 13, 0.1, 13]]},
     "legend": {"title": null, "orient": "none", "legendX": 66, "legendY": 12, "padding": 0, "symbolType": "M-3,0H3", "symbolSize": 499, "symbolStrokeWidth": 3.5, "symbolOffset": 0, "labelOffset": 27, "rowPadding": 7}},
    "detail": {"field": "g", "type": "nominal"},
    "order": {"field": "i", "type": "quantitative"}
   }},
  {"data": {"name": "notes"},
   "transform": [{"filter": "datum.p === 'B'"}],
   "mark": {"type": "text", "font": "Liberation Sans", "fontWeight": "bold", "fontSize": 30, "color": "#000", "align": "center", "baseline": "middle"},
   "encoding": {
    "x": {"field": "v", "type": "quantitative", "scale": {"domain": [-1.5588, 1.5], "nice": false, "zero": false},
     "axis": {"title": "Voltage (V)", "titleX": 388, "domain": false, "values": [-1.5,-1.4,-1.3,-1.2,-1.1,-1,-0.9,-0.8,-0.7,-0.6,-0.5,-0.4,-0.3,-0.2,-0.1,0,0.1,0.2,0.3,0.4,0.5,0.6,0.7,0.8,0.9,1,1.1,1.2,1.3,1.4,1.5],
      "labelExpr": "abs(datum.value*2 - round(datum.value*2)) < 0.01 ? (datum.value < -0.01 ? '-' : '') + format(abs(datum.value), '.1f') : ''",
      "labelPadding": 13, "titlePadding": 13}},
    "y": {"field": "pA", "type": "quantitative", "scale": {"domain": [0, 5], "nice": false, "zero": false},
     "axis": {"title": "Current (A)", "offset": -14, "values": [0,0.2,0.4,0.6,0.8,1,1.2,1.4,1.6,1.8,2,2.2,2.4,2.6,2.8,3,3.2,3.4,3.6,3.8,4,4.2,4.4,4.6,4.8,5],
      "labelExpr": "abs(datum.value - round(datum.value)) < 0.01 ? (round(datum.value) == 0 ? '0.0E+00' : round(datum.value) + '.0E-12') : ''",
      "labelPadding": 16, "titlePadding": 15}},
    "text": {"field": "label", "type": "nominal"}
   }}
 ]
}
]
}
